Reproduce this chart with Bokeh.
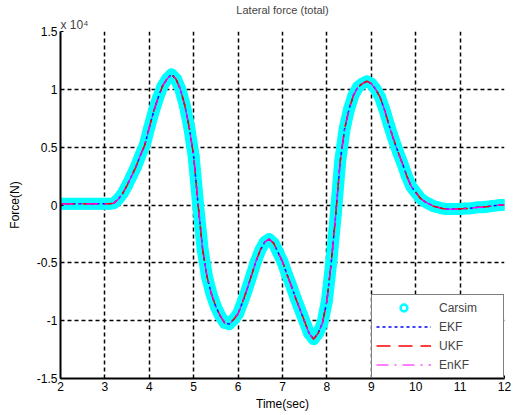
from bokeh.plotting import figure
from bokeh.models import Legend, LegendItem, Title, FixedTicker, ColumnDataSource
from bokeh.embed import file_html
from bokeh.resources import INLINE

# ---- data (force in units of 1e4 N) ----
time_s = [2.0, 2.1, 2.2, 2.3, 2.4, 2.5, 2.6, 2.7, 2.8, 2.9,
          3.0, 3.1, 3.2, 3.3, 3.4, 3.5, 3.6, 3.7, 3.8, 3.9,
          4.0, 4.1, 4.2, 4.3, 4.4, 4.5, 4.6, 4.7, 4.8, 4.9,
          5.0, 5.1, 5.2, 5.3, 5.4, 5.5, 5.6, 5.7, 5.8, 5.9,
          6.0, 6.1, 6.2, 6.3, 6.4, 6.5, 6.6, 6.7, 6.8, 6.9,
          7.0, 7.1, 7.2, 7.3, 7.4, 7.5, 7.6, 7.7, 7.8, 7.9,
          8.0, 8.1, 8.2, 8.3, 8.4, 8.5, 8.6, 8.7, 8.8, 8.9,
          9.0, 9.1, 9.2, 9.3, 9.4, 9.5, 9.6, 9.7, 9.8, 9.9,
          10.0, 10.1, 10.2, 10.3, 10.4, 10.5, 10.6, 10.7, 10.8, 10.9,
          11.0, 11.1, 11.2, 11.3, 11.4, 11.5, 11.6, 11.7, 11.8, 11.9, 12.0]
carsim = [0.01, 0.01, 0.01, 0.01, 0.01, 0.01, 0.01, 0.01, 0.01, 0.01,
          0.01, 0.01, 0.015, 0.05, 0.10, 0.17, 0.25, 0.33, 0.43, 0.52,
          0.67, 0.81, 0.93, 1.03, 1.09, 1.13, 1.09, 1.0, 0.86, 0.67,
          0.42, 0.00, -0.38, -0.62, -0.77, -0.88, -0.96, -1.02, -1.03, -0.99,
          -0.94, -0.84, -0.73, -0.61, -0.49, -0.39, -0.32, -0.295, -0.33, -0.41,
          -0.49, -0.60, -0.70, -0.81, -0.91, -1.01, -1.11, -1.16, -1.11, -1.02,
          -0.83, -0.49, -0.08, 0.38, 0.66, 0.83, 0.95, 1.02, 1.05, 1.07,
          1.05, 1.00, 0.93, 0.82, 0.69, 0.57, 0.46, 0.36, 0.25, 0.16,
          0.11, 0.06, 0.03, 0.01, -0.01, -0.02, -0.03, -0.035, -0.035, -0.035,
          -0.035, -0.03, -0.03, -0.025, -0.02, -0.02, -0.015, -0.01, -0.005, 0.0, 0.0]
ekf = list(carsim)
ukf = list(carsim)
enkf = list(carsim)

x_ticks = [2, 3, 4, 5, 6, 7, 8, 9, 10, 11, 12]
y_ticks = [-1.5, -1, -0.5, 0, 0.5, 1, 1.5]
y_tick_labels = ["-1.5", "-1", "-0.5", "0", "0.5", "1", "1.5"]

FONT = "Liberation Sans"

src = ColumnDataSource(dict(t=time_s, carsim=carsim, ekf=ekf, ukf=ukf, enkf=enkf))

p = figure(width=514, height=415, x_range=(2, 12), y_range=(-1.5, 1.5),
           output_backend="svg", toolbar_location=None,
           min_border_left=60, min_border_right=10, min_border_top=31, min_border_bottom=37)
p.background_fill_color = "white"
p.border_fill_color = "white"
p.outline_line_color = None

p.title.text = "Lateral force (total)"
p.title.align = "center"
p.title.text_font = FONT
p.title.text_font_size = "11px"
p.title.text_font_style = "normal"
p.title.standoff = 0

# x 10^4 multiplier, just above the frame on the left
p.add_layout(Title(text="x 10\u2074", align="left", text_font=FONT,
                   text_font_size="12px", text_font_style="normal", standoff=0), "above")

# grid
for g in (p.xgrid, p.ygrid):
    g.grid_line_color = "black"
    g.grid_line_dash = "4 3"
    g.grid_line_width = 1.5
p.xgrid.ticker = FixedTicker(ticks=x_ticks)
p.ygrid.ticker = FixedTicker(ticks=y_ticks)

# axes
p.xaxis.ticker = FixedTicker(ticks=x_ticks)
p.yaxis.ticker = FixedTicker(ticks=y_ticks)
p.yaxis.major_label_overrides = {v: s for v, s in zip(y_ticks, y_tick_labels)}
p.xaxis.axis_label = "Time(sec)"
p.yaxis.axis_label = "Force(N)"
for ax in (p.xaxis, p.yaxis):
    ax.axis_line_color = "black"
    ax.axis_line_width = 2
    ax.major_tick_out = 0
    ax.major_tick_in = 3
    ax.minor_tick_out = 0
    ax.minor_tick_in = 0
    ax.major_tick_line_color = "black"
    ax.major_label_text_font = FONT
    ax.major_label_text_font_size = "12px"
    ax.major_label_text_color = "black"
    ax.axis_label_text_font = FONT
    ax.axis_label_text_font_size = "12px"
    ax.axis_label_text_font_style = "normal"
    ax.axis_label_text_color = "black"
p.xaxis.major_label_standoff = 3
p.xaxis.axis_label_standoff = 3
p.yaxis.major_label_standoff = 3
p.yaxis.axis_label_standoff = 12

# series
p.line("t", "carsim", source=src, line_color="#00FFFF", line_width=12,
       line_join="round", line_cap="round")
r_cars = p.scatter("t", "carsim", source=src, marker="circle", size=9,
                   fill_color=None, line_color="#00FFFF", line_width=2.5)
r_ekf = p.line("t", "ekf", source=src, line_color="#0000FF", line_width=1.5, line_dash="3 3")
r_ukf = p.line("t", "ukf", source=src, line_color="#FF0000", line_width=1.5, line_dash="14 8")
r_enkf = p.line("t", "enkf", source=src, line_color="#FF00FF", line_width=1.2,
                line_dash="12 6 2 6")

legend = Legend(items=[
    LegendItem(label="Carsim", renderers=[r_cars]),
    LegendItem(label="EKF", renderers=[r_ekf]),
    LegendItem(label="UKF", renderers=[r_ukf]),
    LegendItem(label="EnKF", renderers=[r_enkf]),
], location="bottom_right")
legend.border_line_color = "black"
legend.border_line_width = 1.5
legend.background_fill_color = "white"
legend.background_fill_alpha = 1
legend.margin = 0
legend.padding = 4
legend.spacing = 2
legend.glyph_width = 55
legend.glyph_height = 17
legend.label_standoff = 8
legend.label_text_font = FONT
legend.label_text_font_size = "12px"
legend.label_width = 60
p.add_layout(legend)

open("out.html", "w").write(file_html(p, INLINE))
